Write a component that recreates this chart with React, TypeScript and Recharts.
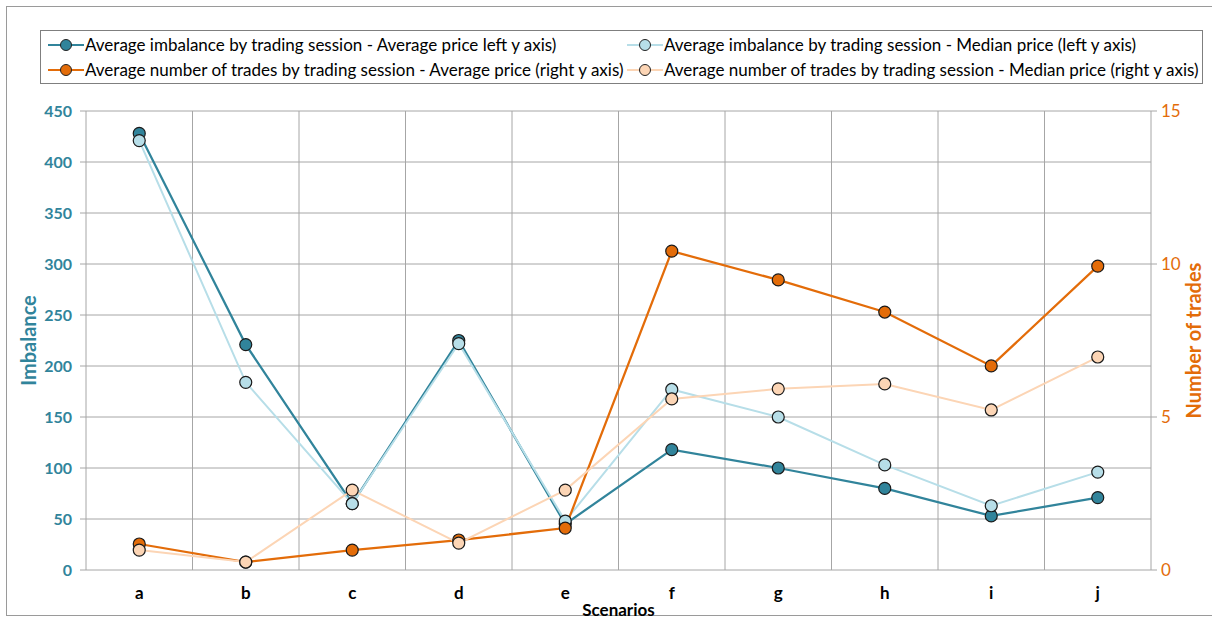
import { CartesianGrid, ComposedChart, Legend, Line, XAxis, YAxis } from "recharts";

const scenarios = ["a", "b", "c", "d", "e", "f", "g", "h", "i", "j"];
const imbalanceAvg = [428, 221, 65, 225, 45, 118, 100, 80, 53, 71];
const imbalanceMedian = [421, 184, 65, 222, 48, 177, 150, 103, 63, 96];
const tradesAvg = [0.85, 0.26, 0.65, 0.98, 1.37, 10.42, 9.48, 8.43, 6.67, 9.93];
const tradesMedian = [0.65, 0.26, 2.61, 0.88, 2.61, 5.59, 5.92, 6.08, 5.23, 6.96];

const leftTicks = [0, 50, 100, 150, 200, 250, 300, 350, 400, 450];
const rightTicks = [0, 5, 10, 15];
const boundTicks = [0, 1, 2, 3, 4, 5, 6, 7, 8, 9, 10];

const TEAL = "#31849B";
const LIGHT_BLUE = "#B7DEE8";
const ORANGE = "#E36C09";
const PEACH = "#FCD5B5";
const GRID = "#A6A6A6";
const FONT = "Lato, 'Liberation Sans', sans-serif";

const series = [
  { key: "imbAvg", name: "Average imbalance by trading session - Average price left y axis)", color: TEAL, axis: "left", width: 2.25 },
  { key: "imbMed", name: "Average imbalance by trading session - Median price (left y axis)", color: LIGHT_BLUE, axis: "left", width: 2 },
  { key: "trAvg", name: "Average number of trades by trading session - Average price (right y axis)", color: ORANGE, axis: "right", width: 2.25 },
  { key: "trMed", name: "Average number of trades by trading session - Median price (right y axis)", color: PEACH, axis: "right", width: 2 },
];

const rows = scenarios.map((s, i) => ({
  scenario: s,
  imbAvg: imbalanceAvg[i],
  imbMed: imbalanceMedian[i],
  trAvg: tradesAvg[i],
  trMed: tradesMedian[i],
}));

function LegendIcon({ color }: { color: string }) {
  return (
    <svg width={36} height={14} style={{ display: "block" }}>
      <line x1={0} y1={7} x2={36} y2={7} stroke={color} strokeWidth={2} />
      <circle cx={18} cy={7} r={5.5} fill={color} stroke="#222" strokeWidth={1} />
    </svg>
  );
}

function LegendBox() {
  return (
    <div
      style={{
        border: "1px solid #7f7f7f",
        width: 1163,
        height: 54,
        boxSizing: "border-box",
        display: "grid",
        gridTemplateColumns: "579px 1fr",
        alignItems: "center",
        padding: "1px 0 1px 7px",
        fontFamily: FONT,
        fontSize: 17,
        color: "#000",
        background: "#fff",
      }}
    >
      {series.map((s) => (
        <div key={s.key} style={{ display: "flex", alignItems: "center", gap: 1, whiteSpace: "nowrap" }}>
          <LegendIcon color={s.color} />
          <span>{s.name}</span>
        </div>
      ))}
    </div>
  );
}

// vertical grid lines sit on the category boundaries, not on the category centres
function boundaryLines({ offset }: any) {
  return boundTicks.map((t) => offset.left + (offset.width * t) / scenarios.length);
}

export default function App() {
  return (
    <div style={{ position: "fixed", left: 0, top: 0, width: 1212, height: 619, background: "#fff" }}>
      <div
        style={{
          position: "absolute",
          left: 6,
          top: 6,
          width: 1210,
          height: 610,
          border: "1px solid #9a9a9a",
          boxSizing: "border-box",
        }}
      />
      <div style={{ position: "absolute", left: 0, top: 0 }}>
        <ComposedChart
          width={1212}
          height={619}
          data={rows}
          margin={{ top: 111, right: 6, bottom: 9, left: 6 }}
          style={{ fontFamily: FONT }}
        >
          <XAxis
            xAxisId="bounds"
            type="number"
            dataKey="bound"
            domain={[0, scenarios.length]}
            ticks={boundTicks}
            height={0}
            axisLine={false}
            tickLine={{ stroke: GRID }}
            tickSize={6}
            tickFormatter={() => ""}
            allowDataOverflow
          />
          <XAxis
            xAxisId="cat"
            dataKey="scenario"
            scale="band"
            height={40}
            axisLine={false}
            tickLine={false}
            tickMargin={11}
            tick={{ fill: "#000", fontSize: 17, fontWeight: 700 }}
            label={{
              content: ({ viewBox }: any) => (
                <text
                  x={viewBox.x + viewBox.width / 2}
                  y={viewBox.y + 46}
                  textAnchor="middle"
                  fontSize={17}
                  fontWeight={700}
                  fill="#000"
                  fontFamily={FONT}
                >
                  Scenarios
                </text>
              ),
            }}
          />
          <YAxis
            yAxisId="left"
            orientation="left"
            width={80}
            domain={[0, 450]}
            ticks={leftTicks}
            axisLine={false}
            tickLine={{ stroke: GRID }}
            tickSize={6}
            tickMargin={8}
            tick={{ fill: TEAL, fontSize: 16, fontWeight: 700 }}
            label={{
              content: ({ viewBox }: any) => {
                const x = viewBox.x + 22;
                const y = viewBox.y + viewBox.height / 2;
                return (
                  <text
                    x={x}
                    y={y}
                    transform={`rotate(-90, ${x}, ${y})`}
                    textAnchor="middle"
                    dominantBaseline="central"
                    fontSize={20}
                    fontWeight={700}
                    fill={TEAL}
                    fontFamily={FONT}
                  >
                    Imbalance
                  </text>
                );
              },
            }}
          />
          <YAxis
            yAxisId="right"
            orientation="right"
            width={55}
            domain={[0, 15]}
            ticks={rightTicks}
            axisLine={false}
            tickLine={{ stroke: GRID }}
            tickSize={6}
            tickMargin={4}
            tick={{ fill: ORANGE, fontSize: 17 }}
            label={{
              content: ({ viewBox }: any) => {
                const x = viewBox.x + 42;
                const y = viewBox.y + viewBox.height / 2;
                return (
                  <text
                    x={x}
                    y={y}
                    transform={`rotate(-90, ${x}, ${y})`}
                    textAnchor="middle"
                    dominantBaseline="central"
                    fontSize={20}
                    fontWeight={700}
                    fill={ORANGE}
                    fontFamily={FONT}
                  >
                    Number of trades
                  </text>
                );
              },
            }}
          />
          <CartesianGrid
            xAxisId="bounds"
            yAxisId="left"
            stroke={GRID}
            strokeWidth={1}
            verticalCoordinatesGenerator={boundaryLines}
          />
          <Legend
            layout="horizontal"
            verticalAlign="middle"
            align="center"
            wrapperStyle={{ position: "absolute", top: 30, left: 40, width: 1163 }}
            content={() => <LegendBox />}
          />
          {series.map((s) => (
            <Line
              key={s.key}
              xAxisId="cat"
              yAxisId={s.axis}
              dataKey={s.key}
              name={s.name}
              type="linear"
              stroke={s.color}
              strokeWidth={s.width}
              dot={{ r: 6, fill: s.color, stroke: "#1a1a1a", strokeWidth: 1.2 }}
              activeDot={false}
              isAnimationActive={false}
            />
          ))}
        </ComposedChart>
      </div>
    </div>
  );
}
